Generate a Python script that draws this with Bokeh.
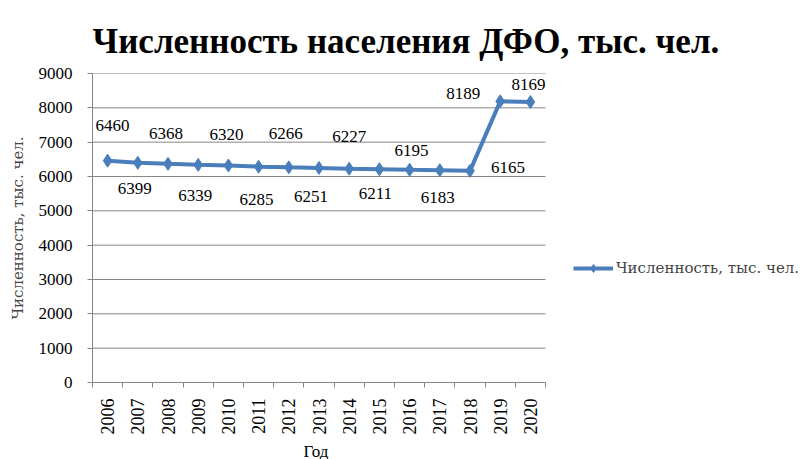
import math
from bokeh.plotting import figure
from bokeh.models import ColumnDataSource, Range1d, FixedTicker, Legend, LegendItem, Title
from bokeh.core.properties import value
from bokeh.embed import file_html
from bokeh.resources import INLINE

years = ["2006", "2007", "2008", "2009", "2010", "2011", "2012", "2013",
         "2014", "2015", "2016", "2017", "2018", "2019", "2020"]
population = [6460, 6399, 6368, 6339, 6320, 6285, 6266, 6251,
              6227, 6211, 6195, 6183, 6165, 8189, 8169]
y_ticks = [0, 1000, 2000, 3000, 4000, 5000, 6000, 7000, 8000, 9000]

# label placement (screen pixels, + = down)
label_dx = [5, -3, -2, -3, -2, -2, -3, -8, 0, -4, 2, -2, 38, -37, -2]
label_dy = [-35, 26, -30, 31, -31, 33, -34, 29, -32, 24, -19, 27, -3, -8, -18]

n = len(years)
xs = [i + 0.5 for i in range(n)]
src = ColumnDataSource(dict(x=xs, y=population, lab=[str(v) for v in population],
                            dx=label_dx, dy=label_dy))

SERIF = "Liberation Serif"
WIDE_SERIF = "DejaVu Serif"
BLUE = "#4A7EBB"
GRID = "#868686"

LEFT, TOP, BOTTOM = 92, 73, 77
FRAME_W, FRAME_H = 714, 309
PLOT_W = 453  # pixel width of the category area
x_end = n * FRAME_W / PLOT_W

p = figure(frame_width=FRAME_W, frame_height=FRAME_H, output_backend="svg",
           toolbar_location=None,
           x_range=Range1d(0, x_end), y_range=Range1d(0, 9000),
           min_border_left=LEFT, min_border_right=0, min_border_top=TOP,
           min_border_bottom=BOTTOM)
p.outline_line_color = None
p.background_fill_color = "white"

p.title.text = "Численность населения ДФО, тыс. чел."
p.title.text_font = SERIF
p.title.text_font_size = "35px"
p.title.text_font_style = "bold"
p.title.text_color = "black"
p.title.align = "left"
p.title.vertical_align = "top"
p.title.standoff = 21

# x axis
p.xaxis.bounds = (0, n)
p.xaxis.ticker = FixedTicker(ticks=xs, minor_ticks=list(range(n + 1)))
p.xaxis.major_label_overrides = {x: y for x, y in zip(xs, years)}
p.xaxis.major_label_orientation = math.pi / 2
p.xaxis.major_tick_out = 0
p.xaxis.major_tick_in = 0
p.xaxis.minor_tick_out = 5
p.xaxis.minor_tick_in = 0
p.xaxis.minor_tick_line_color = GRID
p.xaxis.axis_line_color = GRID
p.xaxis.major_label_standoff = 11
p.xaxis.major_label_text_font = SERIF
p.xaxis.major_label_text_font_size = "18px"
p.xaxis.major_label_text_color = "black"
p.xgrid.visible = False
p.ygrid.visible = False

xtitle = Title(text="Год", align="left", offset=211, standoff=4,
               text_font=SERIF, text_font_size="17px", text_font_style="normal",
               text_color="black")
p.add_layout(xtitle, "below")

# y axis
p.yaxis.ticker = FixedTicker(ticks=y_ticks)
p.yaxis.major_tick_out = 5
p.yaxis.major_tick_in = 0
p.yaxis.minor_tick_line_color = None
p.yaxis.major_tick_line_color = GRID
p.yaxis.axis_line_color = GRID
p.yaxis.major_label_standoff = 15
p.yaxis.major_label_text_font = SERIF
p.yaxis.major_label_text_font_size = "17px"
p.yaxis.major_label_text_color = "black"
p.yaxis.axis_label = "Численность, тыс. чел."
p.yaxis.axis_label_text_font = WIDE_SERIF
p.yaxis.axis_label_text_font_size = "15px"
p.yaxis.axis_label_text_font_style = "normal"
p.yaxis.axis_label_standoff = 9

# horizontal gridlines over the category area only
p.segment(x0=[0] * len(y_ticks), x1=[n] * len(y_ticks), y0=y_ticks, y1=y_ticks,
          line_color=GRID, line_width=1)

ln = p.line("x", "y", source=src, line_color=BLUE, line_width=4)
mk = p.scatter("x", "y", source=src, marker="diamond", size=13, fill_color=BLUE,
               line_color=BLUE)
p.text("x", "y", text="lab", source=src, x_offset="dx", y_offset="dy",
       text_font=value(SERIF), text_font_size="17px", text_color="black",
       text_align="center", text_baseline="middle")

legend = Legend(items=[LegendItem(label="Численность, тыс. чел.", renderers=[ln, mk])],
                location=(481, 104), orientation="vertical")
legend.border_line_color = None
legend.background_fill_alpha = 0
legend.padding = 0
legend.margin = 0
legend.glyph_width = 40
legend.glyph_height = 20
legend.label_standoff = 3
legend.label_text_font = WIDE_SERIF
legend.label_text_font_size = "15px"
p.add_layout(legend, "center")

open("out.html", "w").write(file_html(p, INLINE))
